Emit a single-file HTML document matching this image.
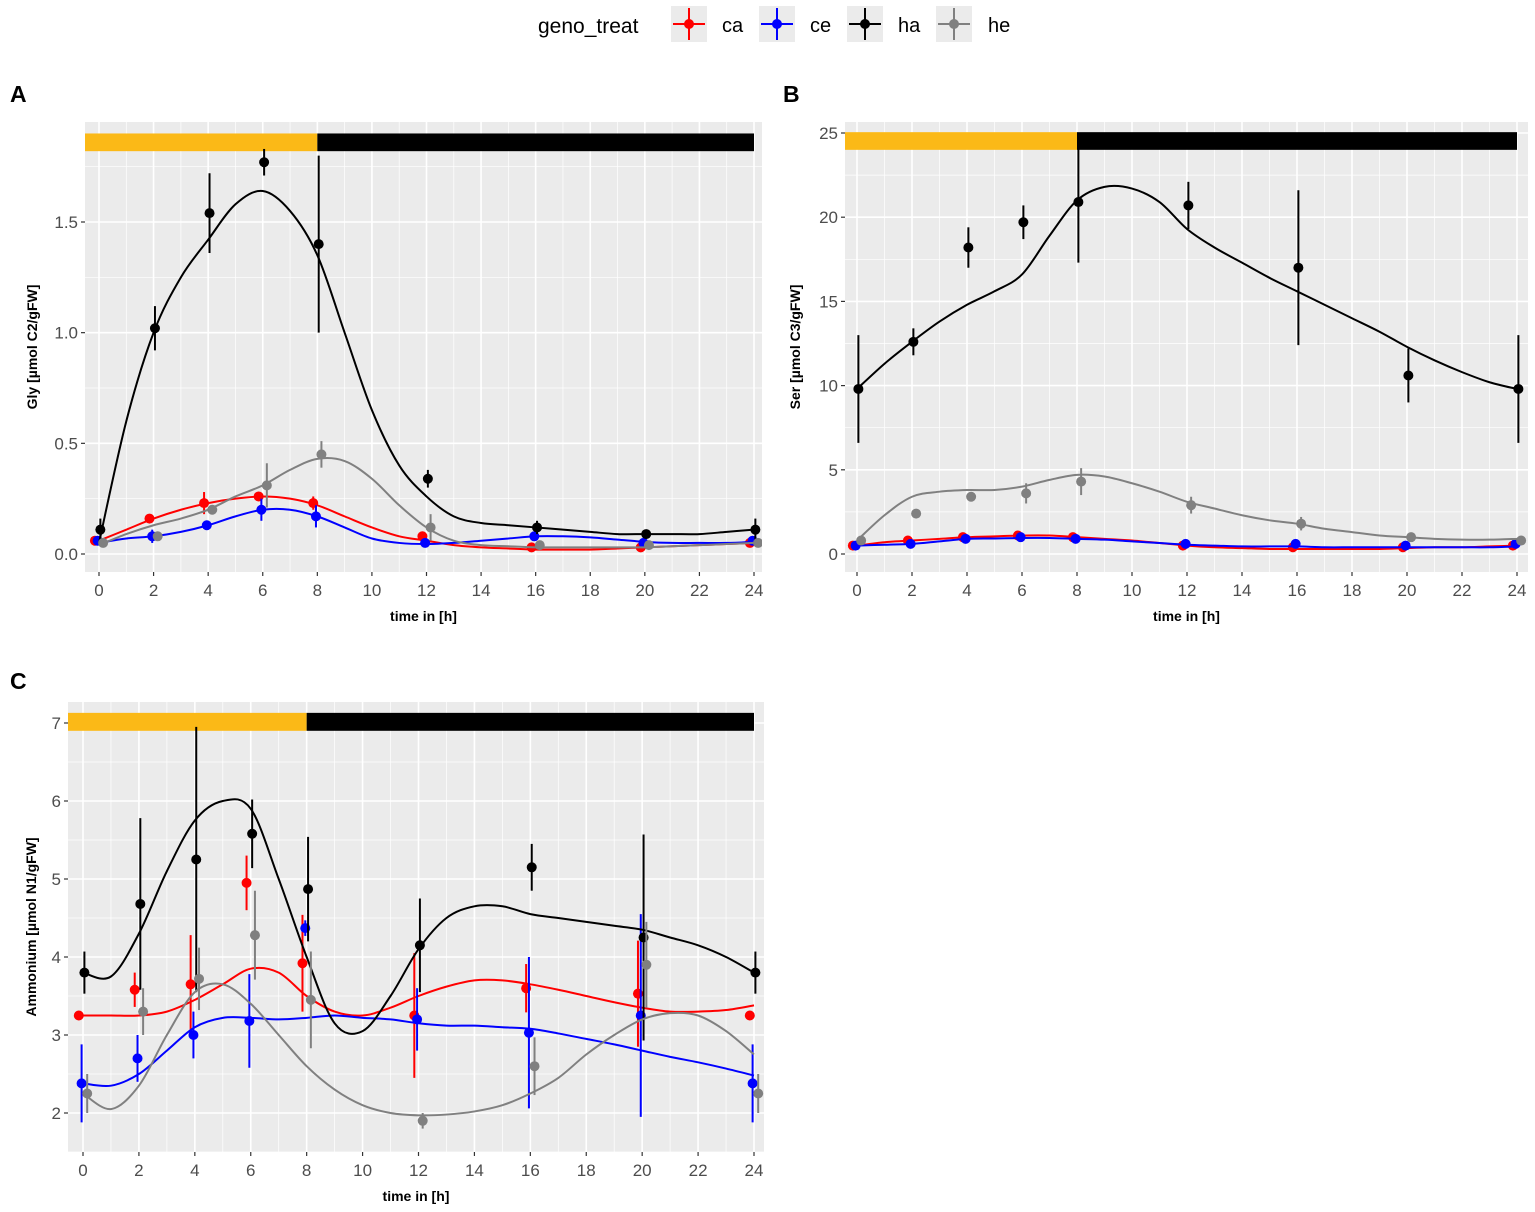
<!DOCTYPE html>
<html><head><meta charset="utf-8"><style>
body{margin:0;background:#fff;width:1535px;height:1207px;overflow:hidden;font-family:"Liberation Sans",Arial,sans-serif}
svg text{font-family:"Liberation Sans",Arial,sans-serif}
</style></head><body>
<svg id="chart" width="1535" height="1207" xmlns="http://www.w3.org/2000/svg">
<g>
<text x="538" y="33" font-size="21" fill="#000">geno_treat</text>
<g><rect x="671" y="6" width="36" height="36" fill="#ebebeb"/><line x1="689" y1="8" x2="689" y2="40" stroke="#f00" stroke-width="2"/><line x1="673" y1="24" x2="705" y2="24" stroke="#f00" stroke-width="2"/><circle cx="689" cy="24" r="5" fill="#f00"/><text x="722" y="32" font-size="20">ca</text></g>
<g><rect x="759" y="6" width="36" height="36" fill="#ebebeb"/><line x1="777" y1="8" x2="777" y2="40" stroke="#00f" stroke-width="2"/><line x1="761" y1="24" x2="793" y2="24" stroke="#00f" stroke-width="2"/><circle cx="777" cy="24" r="5" fill="#00f"/><text x="810" y="32" font-size="20">ce</text></g>
<g><rect x="847" y="6" width="36" height="36" fill="#ebebeb"/><line x1="865" y1="8" x2="865" y2="40" stroke="#000" stroke-width="2"/><line x1="849" y1="24" x2="881" y2="24" stroke="#000" stroke-width="2"/><circle cx="865" cy="24" r="5" fill="#000"/><text x="898" y="32" font-size="20">ha</text></g>
<g><rect x="936" y="6" width="36" height="36" fill="#ebebeb"/><line x1="954" y1="8" x2="954" y2="40" stroke="#808080" stroke-width="2"/><line x1="938" y1="24" x2="970" y2="24" stroke="#808080" stroke-width="2"/><circle cx="954" cy="24" r="5" fill="#808080"/><text x="988" y="32" font-size="20">he</text></g>
</g>
<text x="10" y="102" font-size="23" font-weight="bold">A</text>
<text x="783" y="102" font-size="23" font-weight="bold">B</text>
<text x="10" y="689" font-size="23" font-weight="bold">C</text>
</svg>
<script>
const times=[0,2,4,6,8,12,16,20,24];
const curveTimes=[0,1,2,3,4,5,6,7,8,9,10,11,12,13,14,15,16,17,18,19,20,21,22,23,24];
const groups=["ca","ce","ha","he"];
const colors=["#ff0000","#0000ff","#000000","#808080"];
// Panel A (Gly)
const aYTicks=[0,0.5,1,1.5];
const aYLabels=["0.0","0.5","1.0","1.5"];
const aCa=[0.06,0.16,0.23,0.26,0.23,0.08,0.03,0.03,0.05];
const aCaErr=[0.01,0.02,0.05,0.02,0.03,0.01,0.01,0.01,0.01];
const aCe=[0.06,0.08,0.13,0.20,0.17,0.05,0.08,0.05,0.06];
const aCeErr=[0.01,0.03,0.02,0.05,0.05,0.01,0.01,0.01,0.01];
const aHa=[0.11,1.02,1.54,1.77,1.40,0.34,0.12,0.09,0.11];
const aHaErr=[0.05,0.1,0.18,0.06,0.4,0.04,0.03,0.02,0.05];
const aHe=[0.05,0.08,0.20,0.31,0.45,0.12,0.04,0.04,0.05];
const aHeErr=[0.01,0.01,0.02,0.1,0.06,0.06,0.01,0.01,0.01];
const aCaCurve=[0.06,0.11,0.16,0.2,0.23,0.25,0.26,0.25,0.22,0.17,0.12,0.08,0.06,0.04,0.03,0.025,0.02,0.02,0.02,0.025,0.03,0.035,0.04,0.045,0.05];
const aCeCurve=[0.05,0.07,0.08,0.1,0.13,0.17,0.2,0.2,0.17,0.12,0.07,0.05,0.045,0.05,0.06,0.07,0.08,0.08,0.075,0.065,0.055,0.05,0.05,0.05,0.055];
const aHaCurve=[0.05,0.6,1.0,1.25,1.42,1.58,1.64,1.55,1.35,1.0,0.65,0.4,0.26,0.17,0.14,0.13,0.12,0.11,0.1,0.09,0.09,0.09,0.09,0.1,0.11];
const aHeCurve=[0.04,0.09,0.13,0.16,0.2,0.26,0.31,0.38,0.43,0.42,0.34,0.22,0.12,0.06,0.04,0.035,0.03,0.03,0.03,0.03,0.03,0.035,0.04,0.045,0.05];
// Panel B (Ser)
const bYTicks=[0,5,10,15,20,25];
const bYLabels=["0","5","10","15","20","25"];
const bCa=[0.5,0.8,1.0,1.1,1.0,0.5,0.4,0.4,0.5];
const bCaErr=[0.1,0.1,0.1,0.1,0.1,0.1,0.1,0.1,0.1];
const bCe=[0.5,0.6,0.9,1.0,0.9,0.6,0.6,0.5,0.6];
const bCeErr=[0.1,0.1,0.1,0.1,0.1,0.1,0.1,0.1,0.1];
const bHa=[9.8,12.6,18.2,19.7,20.9,20.7,17.0,10.6,9.8];
const bHaErr=[3.2,0.8,1.2,1.0,3.6,1.4,4.6,1.6,3.2];
const bHe=[0.8,2.4,3.4,3.6,4.3,2.9,1.8,1.0,0.8];
const bHeErr=[0.1,0.2,0.2,0.6,0.8,0.5,0.4,0.2,0.1];
const bCaCurve=[0.5,0.7,0.8,0.9,1.0,1.05,1.1,1.1,1.0,0.9,0.8,0.65,0.5,0.4,0.35,0.3,0.3,0.3,0.3,0.3,0.35,0.4,0.4,0.45,0.5];
const bCeCurve=[0.5,0.55,0.6,0.75,0.9,0.92,0.95,0.95,0.9,0.85,0.75,0.65,0.55,0.5,0.45,0.45,0.45,0.4,0.4,0.4,0.4,0.4,0.4,0.4,0.45];
const bHaCurve=[9.8,11.3,12.6,13.8,14.8,15.6,16.6,18.9,21.0,21.8,21.7,20.9,19.3,18.2,17.3,16.4,15.6,14.8,14.0,13.2,12.3,11.5,10.8,10.2,9.8];
const bHeCurve=[0.8,2.3,3.4,3.7,3.8,3.8,4.0,4.4,4.7,4.6,4.2,3.7,3.1,2.7,2.3,2.0,1.8,1.5,1.3,1.1,1.0,0.9,0.85,0.85,0.9];
// Panel C (Ammonium)
const cYTicks=[2,3,4,5,6,7];
const cYLabels=["2","3","4","5","6","7"];
const cCa=[3.25,3.58,3.65,4.95,3.92,3.25,3.6,3.53,3.25];
const cCaErr=[0.02,0.22,0.63,0.35,0.62,0.8,0.31,0.68,0.02];
const cCe=[2.38,2.7,3.0,3.18,4.37,3.2,3.03,3.25,2.38];
const cCeErr=[0.5,0.3,0.3,0.6,0.1,0.4,0.97,1.3,0.5];
const cHa=[3.8,4.68,5.25,5.58,4.87,4.15,5.15,4.25,3.8];
const cHaErr=[0.27,1.1,1.7,0.44,0.67,0.6,0.3,1.32,0.27];
const cHe=[2.25,3.3,3.72,4.28,3.45,1.9,2.6,3.9,2.25];
const cHeErr=[0.25,0.3,0.4,0.57,0.62,0.1,0.37,0.55,0.25];
const cCaCurve=[3.25,3.25,3.25,3.3,3.45,3.65,3.85,3.8,3.5,3.3,3.25,3.35,3.5,3.62,3.7,3.7,3.65,3.58,3.5,3.42,3.35,3.3,3.3,3.32,3.38];
const cCeCurve=[2.38,2.35,2.5,2.8,3.1,3.22,3.22,3.2,3.22,3.25,3.22,3.2,3.15,3.12,3.12,3.1,3.08,3.02,2.95,2.88,2.8,2.72,2.65,2.57,2.48];
const cHaCurve=[3.8,3.75,4.3,5.1,5.75,6.0,5.9,5.0,4.0,3.15,3.05,3.5,4.1,4.5,4.65,4.65,4.55,4.5,4.45,4.4,4.35,4.25,4.15,4.0,3.8];
const cHeCurve=[2.25,2.05,2.35,3.0,3.55,3.65,3.4,3.0,2.6,2.3,2.1,2.0,1.97,1.98,2.02,2.1,2.25,2.45,2.75,3.0,3.2,3.28,3.25,3.05,2.75];
const xTicks=[0,2,4,6,8,10,12,14,16,18,20,22,24];
const dodge=[-0.15,-0.05,0.05,0.15];

const NS="http://www.w3.org/2000/svg";
const svg=document.getElementById("chart");
function mk(tag,attrs,parent){const e=document.createElementNS(NS,tag);for(const k in attrs)e.setAttribute(k,attrs[k]);parent.appendChild(e);return e;}
function pathFrom(pts){let d="M"+pts[0][0]+","+pts[0][1];for(let i=0;i<pts.length-1;i++){const p0=pts[Math.max(0,i-1)],p1=pts[i],p2=pts[i+1],p3=pts[Math.min(pts.length-1,i+2)];const c1x=p1[0]+(p2[0]-p0[0])/6,c1y=p1[1]+(p2[1]-p0[1])/6,c2x=p2[0]-(p3[0]-p1[0])/6,c2y=p2[1]-(p3[1]-p1[1])/6;d+=" C"+c1x+","+c1y+" "+c2x+","+c2y+" "+p2[0]+","+p2[1];}return d;}

function panel(cfg){
  const g=mk("g",{},svg);
  
  
  const X=t=>cfg.x0+(t-0)*(cfg.x24-cfg.x0)/24;
  const Y=v=>cfg.yA+(v-cfg.vA)*(cfg.yB-cfg.yA)/(cfg.vB-cfg.vA);
  const bg=mk("rect",{x:cfg.L,y:cfg.T,width:cfg.R-cfg.L,height:cfg.B-cfg.T,fill:"#ebebeb"},g);
  
  
  const clipId=cfg.name+"-clip";
  const cp=mk("clipPath",{id:clipId},g);mk("rect",{x:cfg.L,y:cfg.T,width:cfg.R-cfg.L,height:cfg.B-cfg.T},cp);
  const grid=mk("g",{},g);
  
  
  for(let t=-1;t<=25;t++){const x=X(t);if(x<cfg.L||x>cfg.R)continue;mk("line",{x1:x,x2:x,y1:cfg.T,y2:cfg.B,stroke:"#fff","stroke-width":t%2===0?1.6:0.7},grid);}
  const step=cfg.yt[1]-cfg.yt[0];
  for(let v=cfg.yt[0]-step;v<=cfg.yt[cfg.yt.length-1]+step;v+=step/2){const y=Y(v);if(y<cfg.T||y>cfg.B)continue;const major=cfg.yt.some(q=>Math.abs(q-v)<1e-9);mk("line",{x1:cfg.L,x2:cfg.R,y1:y,y2:y,stroke:"#fff","stroke-width":major?1.6:0.7},grid);}
  // light/dark bar
  const lb=mk("rect",{x:cfg.L,y:Y(cfg.barTop),width:X(8)-cfg.L,height:Y(cfg.barBot)-Y(cfg.barTop),fill:"#fbb917"},g);
  
  
  const db=mk("rect",{x:X(8),y:Y(cfg.barTop),width:X(24)-X(8),height:Y(cfg.barBot)-Y(cfg.barTop),fill:"#000"},g);
  
  
  const data=mk("g",{"clip-path":"url(#"+clipId+")"},g);
  groups.forEach((gn,i)=>{
    const vals=cfg.vals[i],errs=cfg.errs[i],curve=cfg.curves[i];
    const s=mk("g",{},data);
    
    
    const p=mk("path",{d:pathFrom(curveTimes.map((t,k)=>[X(t),Y(curve[k])])),fill:"none",stroke:colors[i],"stroke-width":2},s);
    
    
    times.forEach((t,k)=>{
      const x=X(t+dodge[i]);
      const eb=mk("line",{x1:x,x2:x,y1:Y(vals[k]-errs[k]),y2:Y(vals[k]+errs[k]),stroke:colors[i],"stroke-width":2},s);
      
      
      const c=mk("circle",{cx:x,cy:Y(vals[k]),r:5,fill:colors[i]},s);
      
      
    });
  });
  const ax=mk("g",{},g);
  
  
  xTicks.forEach(t=>{const x=X(t);mk("line",{x1:x,x2:x,y1:cfg.B,y2:cfg.B+4,stroke:"#333","stroke-width":1.2},ax);const tx=mk("text",{x:x,y:cfg.B+24,"font-size":17,fill:"#4d4d4d","text-anchor":"middle"},ax);tx.textContent=t;});
  const xt=mk("text",{x:(cfg.L+cfg.R)/2,y:cfg.B+49,"font-size":14,"font-weight":"bold","text-anchor":"middle"},g);
  xt.textContent="time in [h]";
  
  
  const ay=mk("g",{},g);
  
  
  cfg.yt.forEach((v,k)=>{const y=Y(v);mk("line",{x1:cfg.L-4,x2:cfg.L,y1:y,y2:y,stroke:"#333","stroke-width":1.2},ay);const tx=mk("text",{x:cfg.L-7,y:y+6,"font-size":17,fill:"#4d4d4d","text-anchor":"end"},ay);tx.textContent=cfg.yl[k];});
  const yt=mk("text",{x:0,y:0,"font-size":14,"font-weight":"bold","text-anchor":"middle",transform:"translate("+cfg.ytx+","+(cfg.T+cfg.B)/2+") rotate(-90)"},g);
  yt.textContent=cfg.ytitle;
  
  
}
panel({name:"panel-a-gly",L:85,R:762,T:122,B:572,x0:99,x24:754,vA:0,yA:554,vB:1.5,yB:222,yt:aYTicks,yl:aYLabels,barTop:1.90,barBot:1.82,
  vals:[aCa,aCe,aHa,aHe],errs:[aCaErr,aCeErr,aHaErr,aHeErr],curves:[aCaCurve,aCeCurve,aHaCurve,aHeCurve],ytitle:"Gly [µmol C2/gFW]",ytx:37});
panel({name:"panel-b-ser",L:845,R:1528,T:122,B:572,x0:857,x24:1517,vA:0,yA:554,vB:25,yB:133,yt:bYTicks,yl:bYLabels,barTop:25.05,barBot:24.0,
  vals:[bCa,bCe,bHa,bHe],errs:[bCaErr,bCeErr,bHaErr,bHeErr],curves:[bCaCurve,bCeCurve,bHaCurve,bHeCurve],ytitle:"Ser [µmol C3/gFW]",ytx:800});
panel({name:"panel-c-ammonium",L:68,R:764,T:702,B:1152,x0:83,x24:754,vA:2,yA:1113,vB:7,yB:723,yt:cYTicks,yl:cYLabels,barTop:7.13,barBot:6.9,
  vals:[cCa,cCe,cHa,cHe],errs:[cCaErr,cCeErr,cHaErr,cHeErr],curves:[cCaCurve,cCeCurve,cHaCurve,cHeCurve],ytitle:"Ammonium [µmol N1/gFW]",ytx:36});
</script>
</body></html>
